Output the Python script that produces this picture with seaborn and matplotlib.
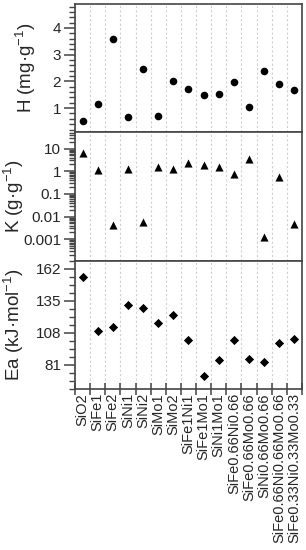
import numpy as np
import pandas as pd
import seaborn as sns
import matplotlib.pyplot as plt
from matplotlib.ticker import MultipleLocator, FixedLocator, LogLocator, NullFormatter

sns.set_style('white')
plt.rcParams['font.family'] = ['Liberation Sans', 'DejaVu Sans']
plt.rcParams['mathtext.fontset'] = 'custom'
plt.rcParams['mathtext.rm'] = 'Liberation Sans'
plt.rcParams['mathtext.it'] = 'Liberation Sans'

# Data
samples = ['SiO2', 'SiFe1', 'SiFe2', 'SiNi1', 'SiNi2', 'SiMo1', 'SiMo2', 'SiFe1Ni1',
           'SiFe1Mo1', 'SiNi1Mo1', 'SiFe0.66Ni0.66', 'SiFe0.66Mo0.66',
           'SiNi0.66Mo0.66', 'SiFe0.66Ni0.66Mo0.66', 'SiFe0.33Ni0.33Mo0.33']
H = [0.50, 1.17, 3.58, 0.67, 2.47, 0.72, 2.03, 1.71, 1.48, 1.52, 1.98, 1.06, 2.38, 1.89, 1.69]
K = [6.5, 1.1, 0.0044, 1.22, 0.0055, 1.55, 1.22, 2.2, 1.97, 1.6, 0.79, 3.6, 0.0012, 0.55, 0.0045]
Ea = [154.7, 109.4, 112.7, 131.7, 129.2, 116.3, 123.0, 101.8, 71.8, 85.4, 101.8, 85.7, 83.5, 99.3, 102.4]

df = pd.DataFrame({'pos': np.arange(len(samples)), 'H': H, 'K': K, 'Ea': Ea})

fig, axes = plt.subplots(3, 1, figsize=(3.06, 5.50), dpi=100, sharex=True)
fig.subplots_adjust(left=0.245, right=0.987, top=0.993, bottom=0.293, hspace=0)

spine_c = '#444444'
specs = [('H', 'o', 'H (mg·g$^{\\mathregular{-1}}$)', -0.165),
         ('K', '^', 'K (g·g$^{\\mathregular{-1}}$)', -0.215),
         ('Ea', 'D', 'Ea (kJ·mol$^{\\mathregular{-1}}$)', -0.215)]
sizes = {'o': 30, '^': 34, 'D': 22}
for ax, (col, mk, lab, lx) in zip(axes, specs):
    sns.scatterplot(data=df, x='pos', y=col, marker=mk, color='black', s=sizes[mk],
                    edgecolor='black', linewidth=0, ax=ax, zorder=3)
    ax.set_ylabel(lab, fontsize=13.5)
    ax.yaxis.set_label_coords(lx, 0.5)
    ax.set_xlabel('')
    for sp in ax.spines.values():
        sp.set_color(spine_c)
        sp.set_linewidth(1.2)
    ax.set_xlim(-0.5, len(samples) - 0.5)
    ax.xaxis.set_minor_locator(FixedLocator(np.arange(len(samples) + 1) - 0.5))
    ax.grid(which='minor', axis='x', color='#d0d0d0', linestyle=(0, (2, 2)), linewidth=0.8)
    ax.grid(which='major', axis='x', visible=False)
    ax.tick_params(axis='y', which='major', direction='out', length=8, width=1.1,
                   color=spine_c, labelsize=11, pad=2, left=True)
    ax.tick_params(axis='y', which='minor', direction='out', length=4.5, width=1.0,
                   color=spine_c, left=True)
    ax.tick_params(axis='x', which='both', length=0)

# H panel
axes[0].set_ylim(0.1, 4.9)
axes[0].yaxis.set_major_locator(MultipleLocator(1))
axes[0].yaxis.set_minor_locator(MultipleLocator(0.2))

# K panel
axes[1].set_yscale('log')
axes[1].set_ylim(1.15e-4, 53)
axes[1].set_yticks([0.001, 0.01, 0.1, 1, 10])
axes[1].set_yticklabels(['0.001', '0.01', '0.1', '1', '10'])
axes[1].yaxis.set_minor_locator(LogLocator(base=10, subs=np.arange(2, 10), numticks=20))
axes[1].yaxis.set_minor_formatter(NullFormatter())

# Ea panel
axes[2].set_ylim(60.75, 168.75)
axes[2].set_yticks([81, 108, 135, 162])
axes[2].yaxis.set_minor_locator(MultipleLocator(6.75))

# x axis on bottom panel
axes[2].set_xticks(np.arange(len(samples)))
axes[2].set_xticklabels(samples, rotation=90, fontsize=10.5)
axes[2].tick_params(axis='x', which='major', length=0, pad=3)
axes[2].tick_params(axis='x', which='minor', direction='inout', length=8, width=1.1,
                    color=spine_c, bottom=True)

fig.savefig('out.png', dpi=100)
